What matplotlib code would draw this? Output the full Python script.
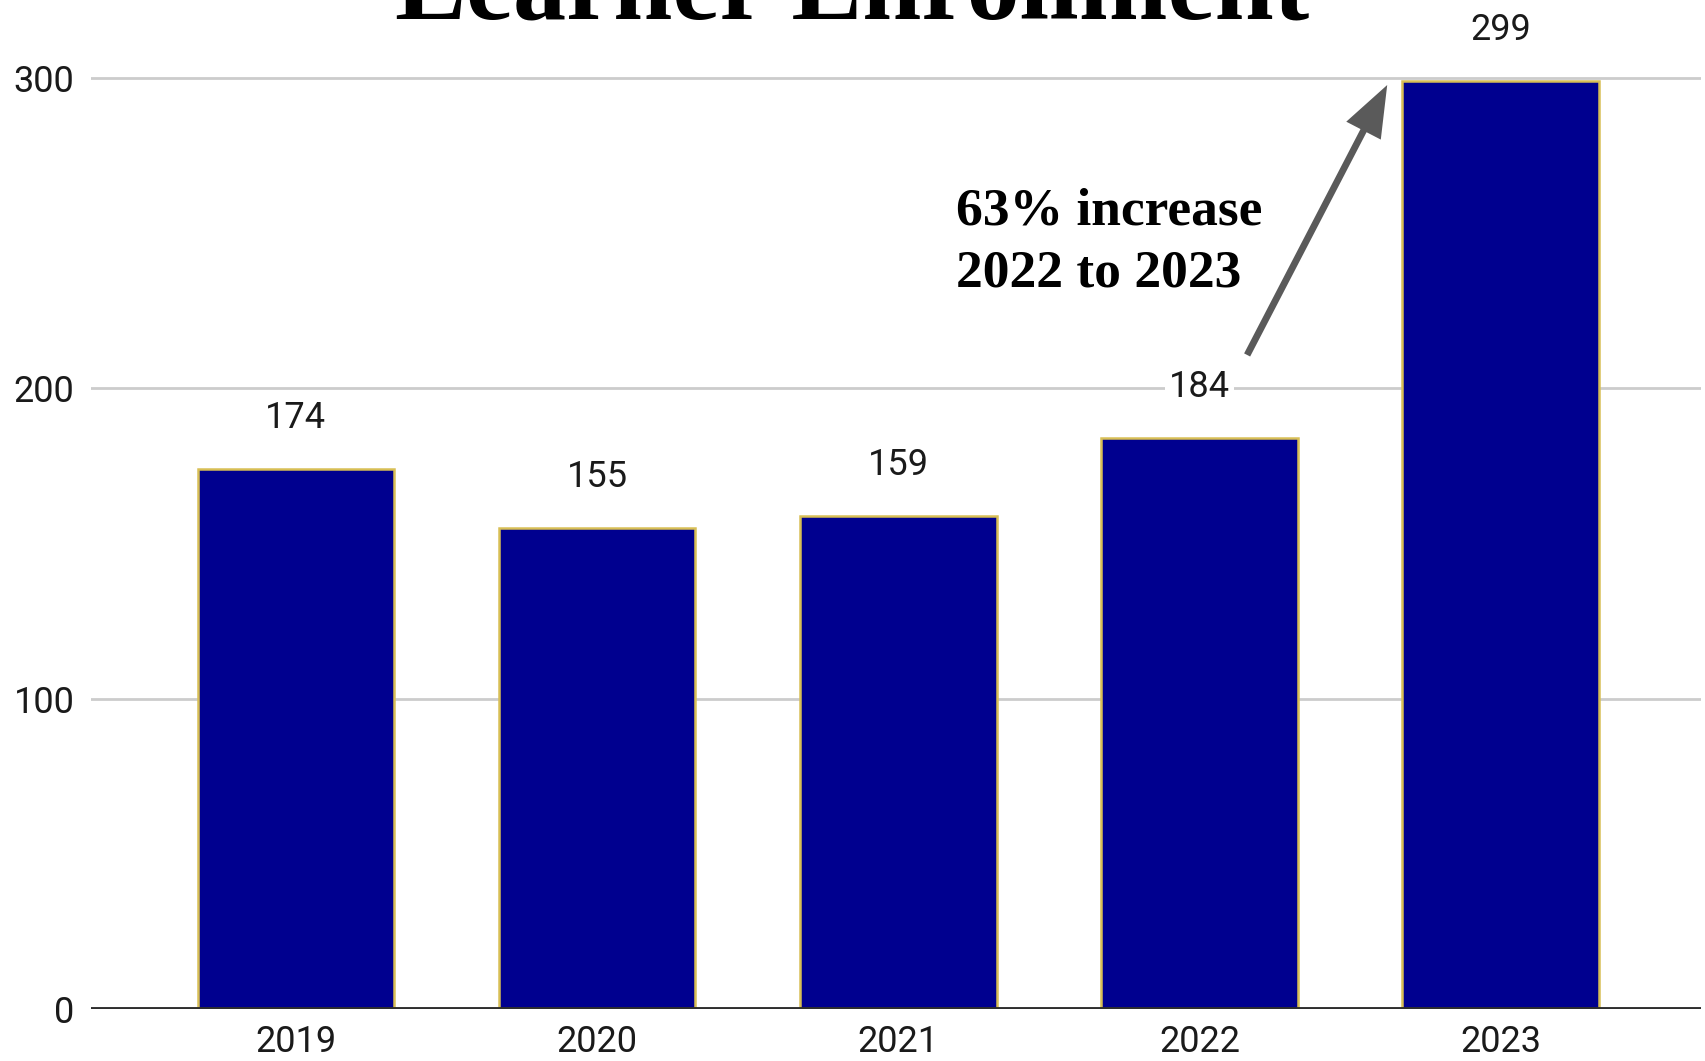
import matplotlib
matplotlib.use('Agg')
import matplotlib.pyplot as plt

# Data
years = ['2019', '2020', '2021', '2022', '2023']
enrollment = [174, 155, 159, 184, 299]
y_ticks = [0, 100, 200, 300]

bar_color = '#00008f'
edge_color = '#d8bf55'
grid_color = '#cccccc'

fig = plt.figure(figsize=(17.05, 10.61), dpi=100)
ax = fig.add_axes([0.0534, 0.049, 0.9443, 0.951])

x = range(len(years))
ax.bar(x, enrollment, width=0.653, color=bar_color, edgecolor=edge_color,
       linewidth=1.8, zorder=3)

# Value labels with white box so gridlines break around them
for i, v in zip(x, enrollment):
    ax.annotate(str(v), xy=(i, v), xytext=(0, 29.5), textcoords='offset points',
                ha='center', va='baseline', fontsize=26, family='Roboto',
                color='#1a1a1a', zorder=4,
                bbox=dict(boxstyle='square,pad=0.12', fc='white', ec='none'))

# Axis limits and ticks
ax.set_xlim(-0.68, 4.665)
ax.set_ylim(0, 325.2)
ax.set_xticks(list(x))
ax.set_xticklabels(years)
ax.set_yticks(y_ticks)
ax.tick_params(axis='both', length=0, labelsize=26, colors='#1a1a1a')
ax.tick_params(axis='y', pad=12)
ax.tick_params(axis='x', pad=11)
for lbl in ax.get_xticklabels() + ax.get_yticklabels():
    lbl.set_family('Roboto')

ax.grid(axis='y', color=grid_color, linewidth=2, zorder=0)
ax.set_axisbelow(True)
for s in ax.spines.values():
    s.set_visible(False)
ax.axhline(0, color='#2e2e2e', linewidth=2.8, zorder=5)

# Growth annotation
ax.annotate('', xy=(3.623, 297.8), xytext=(3.158, 210.8),
            arrowprops=dict(width=4.9, headwidth=28, headlength=37,
                            shrink=0, color='#5a5a5a', lw=0),
            zorder=6)
ax.text(2.191, 252.7, '63% increase', ha='left', va='baseline',
        fontsize=38.5, fontweight='bold', family='Liberation Serif', color='black')
ax.text(2.191, 233.0, '2022 to 2023', ha='left', va='baseline',
        fontsize=38.5, fontweight='bold', family='Liberation Serif', color='black')

# Title (cut off at the top, as in the original)
fig.text(0.5, 1 - 18 / 1061, 'Learner Enrollment', ha='center', va='baseline',
         fontsize=76.5, fontweight='bold', family='Liberation Serif', color='black')

fig.savefig('out.png', dpi=100, facecolor='white')
